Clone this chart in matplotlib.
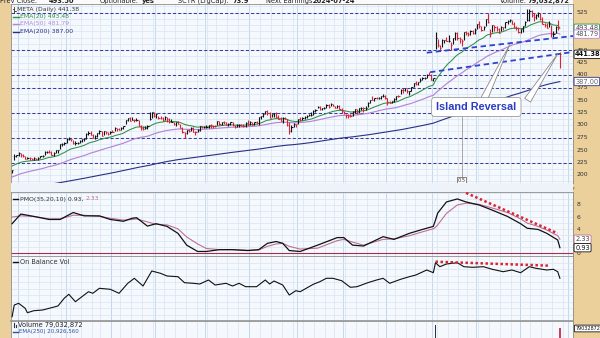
import numpy as np
import pandas as pd
import matplotlib
matplotlib.use('Agg')
import matplotlib.pyplot as plt
from matplotlib.patches import Rectangle
from matplotlib.lines import Line2D
import matplotlib.transforms as mtrans

# ---------------- DATA (META daily, Apr 26 2023 - Apr 25 2024) ----------------
closes = [209.4, 238.56, 240.32,
    243.18, 239.23, 237.03, 232.78, 233.8, 233.27, 231.7, 233.2, 232.6, 233.8, 237.6, 238.2, 246.8, 246.9, 245.6, 240.6, 244.2, 249.2, 249.5, 262.0, 262.5, 264.7,
    272.6, 272.6, 271.4, 263.6, 263.6, 264.6, 268.2, 271.3, 271.8, 281.8, 284.4, 281.0, 274.4, 277.6, 284.3, 288.7, 278.5, 287.2, 285.3, 281.5, 287.0,
    286.0, 294.4, 292.0, 290.5, 294.1, 298.3, 309.3, 313.4, 308.9, 310.6, 309.3, 311.0, 299.0, 294.3, 291.6, 294.5, 298.6, 311.7, 325.5, 318.6,
    322.7, 314.0, 313.5, 310.7, 316.6, 312.6, 305.2, 305.7, 301.6, 306.2, 301.9, 294.3, 285.1, 283.25, 289.9, 287.6, 294.5, 286.7, 285.5, 290.3, 298.0, 295.1, 295.9,
    296.4, 300.2, 299.2, 298.7, 297.9, 307.6, 301.6, 305.7, 305.1, 300.3, 302.6, 305.1, 299.1, 295.7, 299.1, 300.8, 299.0, 297.7, 304.0, 300.2,
    306.8, 300.9, 305.6, 304.8, 315.4, 317.7, 321.8, 327.8, 324.2, 314.7, 321.2, 324.0, 317.0, 312.8, 308.7, 314.0, 312.6, 299.5, 288.4, 296.7, 302.7, 301.3,
    311.9, 310.9, 314.6, 315.8, 318.8, 319.8, 320.6, 328.8, 329.2, 336.3, 332.7, 334.2, 335.0, 340.0, 337.0, 341.5, 338.2, 334.7, 339.0, 332.2, 327.2,
    324.8, 320.0, 318.3, 317.5, 326.6, 332.8, 325.3, 334.2, 334.7, 333.2, 334.9, 344.6, 350.4, 349.3, 354.1, 353.4, 354.8, 357.8, 358.3, 354.0,
    346.3, 344.5, 347.1, 352.0, 358.7, 357.4, 370.5, 369.7, 374.5, 367.5, 368.4, 376.1, 383.5, 381.8, 385.2, 390.7, 393.2, 394.1, 401.0, 400.1, 390.1,
    394.8, 475.0, 459.4, 454.7, 469.6, 470.0, 468.1, 468.9, 460.1, 473.3, 484.0, 473.3, 471.8, 468.0, 486.1, 484.0, 481.7, 487.1, 484.0, 490.1,
    502.3, 498.2, 490.2, 496.1, 512.2, 506.0, 483.6, 499.8, 495.6, 491.8, 484.1, 497.0, 496.2, 505.5, 507.8, 509.6, 503.0, 495.9, 493.9, 485.6,
    491.4, 497.4, 506.7, 510.9, 527.3, 519.3, 516.9, 519.8, 523.2, 511.9, 502.8, 499.8, 494.2, 501.8, 481.1, 481.7, 496.1, 493.5, 441.38]
highs = [210.0, 241.69, 241.0,
    245.7, 243.5, 242.2, 237.8, 235.5, 235.8, 234.8, 236.6, 234.9, 235.4, 238.6, 240.0, 248.3, 247.8, 249.1, 247.9, 245.5, 250.3, 251.0, 263.0, 265.0, 266.0,
    273.3, 275.4, 273.0, 270.8, 267.2, 267.0, 270.6, 272.0, 274.4, 283.4, 287.7, 288.7, 281.8, 280.2, 285.0, 290.0, 289.0, 288.1, 288.6, 286.5, 288.1,
    289.8, 296.7, 293.9, 294.6, 296.0, 298.9, 310.3, 313.9, 316.8, 315.4, 312.6, 314.3, 310.8, 300.0, 298.6, 297.5, 300.3, 326.2, 325.6, 326.2,
    324.0, 318.0, 318.1, 316.7, 317.4, 315.6, 314.1, 312.4, 305.3, 306.4, 307.2, 301.5, 295.6, 285.3, 290.7, 292.6, 295.2, 297.0, 287.1, 292.0, 298.5, 298.7, 298.6,
    299.5, 300.8, 302.5, 300.9, 300.2, 308.5, 307.1, 306.8, 307.7, 305.7, 304.0, 305.5, 306.8, 299.9, 301.5, 301.3, 302.6, 301.2, 305.8, 309.3,
    307.2, 307.0, 306.5, 307.2, 316.3, 318.3, 324.1, 328.0, 330.5, 325.6, 322.4, 325.0, 325.7, 320.2, 315.4, 316.5, 316.9, 311.5, 306.3, 299.3, 304.1, 302.6,
    311.9, 315.1, 315.8, 318.3, 319.8, 322.4, 325.4, 329.1, 332.3, 338.0, 338.9, 334.6, 336.2, 342.9, 341.9, 344.0, 342.5, 338.0, 339.2, 340.3, 333.2,
    329.0, 322.2, 321.5, 321.6, 327.8, 333.0, 332.1, 334.5, 336.9, 337.0, 338.0, 346.4, 350.4, 358.8, 354.8, 356.0, 356.1, 358.5, 361.9, 361.0,
    353.5, 347.9, 348.2, 353.5, 358.9, 360.6, 371.1, 373.6, 375.0, 372.9, 368.4, 376.6, 385.0, 387.8, 385.2, 394.7, 397.0, 396.0, 401.9, 406.4, 401.7,
    395.0, 486.0, 471.9, 459.4, 471.5, 470.5, 476.0, 480.4, 465.8, 473.8, 486.0, 485.1, 475.5, 471.7, 486.9, 488.5, 486.8, 490.0, 489.3, 495.0,
    503.0, 508.4, 497.3, 498.6, 512.8, 523.6, 492.0, 500.0, 500.5, 498.9, 494.5, 498.0, 497.0, 507.0, 509.8, 511.5, 509.6, 507.0, 498.7, 496.5,
    492.0, 499.0, 507.8, 531.5, 532.0, 530.5, 524.4, 522.4, 526.1, 523.9, 516.0, 504.8, 505.0, 507.8, 500.5, 488.8, 498.8, 510.0, 446.4]
lows = [204.5, 229.85, 235.9,
    238.9, 236.6, 236.8, 231.1, 231.3, 230.7, 230.7, 229.8, 230.5, 230.7, 233.9, 236.8, 240.0, 243.5, 244.3, 240.0, 238.0, 243.6, 244.9, 251.8, 258.3, 259.1,
    264.7, 269.2, 268.4, 262.3, 259.9, 262.1, 264.8, 266.5, 268.9, 272.8, 280.6, 280.4, 273.8, 271.6, 277.0, 283.0, 278.1, 279.6, 282.5, 280.0, 282.6,
    285.1, 288.0, 288.6, 289.4, 289.1, 291.4, 302.0, 307.2, 308.4, 309.4, 306.6, 307.1, 297.8, 290.8, 290.2, 291.2, 292.6, 311.0, 314.1, 316.8,
    313.3, 311.1, 311.2, 309.0, 310.2, 306.6, 304.1, 305.1, 300.2, 299.0, 301.4, 294.2, 284.6, 274.4, 281.3, 286.0, 287.4, 286.5, 279.5, 286.4, 288.5, 294.1, 294.9,
    294.0, 293.8, 294.8, 294.7, 295.9, 300.0, 300.9, 300.2, 301.2, 299.6, 298.9, 300.0, 298.8, 295.0, 295.4, 295.7, 297.6, 295.1, 296.8, 299.8,
    299.1, 299.3, 300.6, 301.1, 299.8, 311.3, 316.6, 321.1, 320.9, 313.6, 316.3, 316.5, 315.0, 311.5, 307.2, 305.0, 311.3, 298.2, 282.0, 286.2, 296.7, 295.5,
    301.6, 307.8, 310.5, 312.3, 314.4, 317.6, 318.5, 319.5, 326.3, 333.5, 329.7, 330.2, 331.1, 334.6, 335.0, 338.6, 337.8, 333.1, 333.7, 331.1, 324.6,
    322.3, 313.7, 314.3, 315.6, 318.8, 323.5, 322.6, 324.3, 329.3, 326.7, 330.7, 335.8, 343.2, 349.1, 348.9, 351.4, 351.7, 352.6, 357.0, 351.9,
    340.0, 343.2, 343.5, 346.3, 350.0, 355.4, 361.1, 364.3, 367.6, 363.3, 360.8, 367.4, 376.0, 379.9, 380.2, 386.2, 390.6, 391.3, 393.9, 399.1, 390.0,
    387.2, 453.0, 456.0, 450.0, 457.0, 464.1, 467.6, 466.4, 450.7, 462.9, 470.9, 469.1, 463.9, 458.7, 470.1, 480.5, 478.3, 479.6, 482.2, 481.2,
    491.4, 494.0, 487.5, 489.9, 498.5, 503.9, 476.0, 486.5, 488.3, 488.5, 483.6, 487.5, 489.1, 494.0, 502.1, 505.5, 502.8, 495.0, 490.0, 484.7,
    483.1, 485.8, 497.2, 508.1, 508.5, 516.3, 508.8, 511.6, 516.0, 509.3, 501.4, 496.3, 493.5, 495.6, 476.4, 476.7, 484.3, 490.0, 414.5]

ema20_start, ema50_start, ema200_start = 218.0, 196.0, 171.0

# PMO(35,20,10) at sample days (trading-day index)
pmo_days = [0, 4, 10, 17, 22, 28, 33, 40, 45, 51, 55, 57, 62, 66, 71, 76, 80, 85, 89, 95, 101, 108, 113, 117, 121, 124, 127, 132, 140, 149,
            152, 156, 161, 170, 175, 182, 188, 193, 194, 195, 199, 204, 208, 214, 220, 227, 233, 236, 241, 245, 250, 251]
pmo = [4.9, 6.5, 6.1, 5.6, 5.6, 6.75, 6.2, 6.2, 5.6, 5.3, 5.8, 5.9, 4.5, 4.9, 4.45, 3.3, 1.35, 0.3, 0.3, 0.6, 0.6, 0.45, 0.6, 1.65, 1.95, 1.65,
       0.45, 0.3, 1.35, 2.6, 2.6, 1.35, 1.2, 2.75, 2.3, 3.3, 3.95, 4.45, 5.5, 6.65, 8.5, 9.0, 8.5, 8.0, 7.15, 6.1, 4.9, 4.15, 3.95, 3.3, 2.2, 0.93]
pmo_signal = [6.0, 6.2, 6.1, 5.7, 5.7, 6.3, 6.3, 6.1, 5.8, 5.5, 5.6, 5.7, 5.2, 4.8, 4.7, 4.05, 2.7, 1.55, 0.8, 0.6, 0.6, 0.5, 0.55, 1.15, 1.55,
              1.65, 1.15, 0.7, 0.85, 2.1, 2.3, 1.85, 1.35, 2.3, 2.4, 2.9, 3.55, 4.05, 4.3, 4.7, 6.6, 8.0, 8.3, 8.1, 7.5, 6.75, 5.7, 5.0, 4.45,
              3.85, 2.9, 2.33]

# On Balance Volume (relative units)
obv_days = [0, 1, 3, 6, 7, 10, 14, 17, 21, 24, 26, 29, 35, 37, 40, 45, 49, 53, 56, 60, 64, 68, 71, 76, 79, 83, 86, 90, 93, 98, 101,
            104, 107, 112, 116, 118, 120, 124, 127, 130, 132, 138, 141, 144, 147, 151, 155, 158, 163, 167, 170, 173, 178, 182, 185, 190,
            193, 194, 196, 199, 204, 207, 211, 216, 220, 225, 229, 233, 237, 240, 245, 248, 250, 251]
obv = [3.3, 15.0, 16.7, 11.7, 7.3, 9.3, 10, 11.7, 14, 22, 25.7, 18.3, 28.3, 26.7, 31.7, 30.7, 26.7, 36.7, 41.7, 34, 49, 46.7, 44, 43.3,
       37.3, 36.7, 36, 40, 35, 36.7, 34, 36.7, 33.3, 33.3, 40, 36, 39, 35, 25, 29.3, 28.3, 35.7, 38.3, 41.7, 41.7, 39.3, 32.7, 33.3, 37.3,
       40, 41.7, 36.7, 40.7, 43.3, 45, 50, 47.3, 57.3, 53.3, 56, 57.3, 53.3, 52.7, 53.3, 50.7, 48.3, 50, 47.3, 53.3, 51.7, 50, 50.7, 48.3, 41.7]

# Volume (millions) visible above the cropped bottom edge
vol_days = [194, 251]
volumes = [85.4, 79.03]

h_levels = [525, 450, 400, 375, 325, 275, 225]
price_ticks = [525, 450, 425, 400, 375, 350, 325, 300, 275, 250, 225, 200]
pmo_ticks = [8, 6, 4, 0]
trend_upper = ([190, 257], [444.6, 478.0])
trend_lower = ([191.5, 257], [405.6, 446.0])
pmo_trend = ([208, 250], [10.0, 3.3])
obv_trend = ([194, 246.5], [58.3, 54.3])

# ---------------- helpers ----------------
W, H = 600, 338
def fx(x): return x / W
def fy(y): return 1 - y / H

TAN = '#ecd09c'
BG = '#f5f9fd'
GRID = '#d6e4f2'
GRID_M = '#bfd3ea'
GREEN = '#2f8f46'
PURPLE = '#b586d8'
NAVY = '#2a2f86'
RED = '#dc2430'
PINK = '#c07095'
FS = 4.4

holidays = pd.to_datetime(['2023-05-29', '2023-06-19', '2023-07-04', '2023-09-04', '2023-11-23',
                           '2023-12-25', '2024-01-01', '2024-01-15', '2024-02-19', '2024-03-29'])
cal = pd.bdate_range('2023-04-26', '2024-05-10')
cal = cal[~cal.isin(holidays)]
n = len(closes)
idx = np.arange(n)
XMAX = 257.0
month_pos = [i for i in range(1, len(cal)) if cal[i].month != cal[i - 1].month and i <= XMAX]
week_pos = [i for i in range(1, len(cal)) if cal[i].weekday() < cal[i - 1].weekday() and i <= XMAX]

def ema(vals, seed, span):
    a = 2.0 / (span + 1)
    out = [seed]
    for v in vals[1:]:
        out.append(out[-1] + a * (v - out[-1]))
    return np.array(out)

c = np.array(closes)
ema20 = ema(c, ema20_start, 20)
ema50 = ema(c, ema50_start, 50)
ema200 = ema(c, ema200_start, 200)
cols = [('#111111' if (i == 0 or c[i] >= c[i - 1]) else RED) for i in range(n)]

plt.rcParams['font.family'] = ['DejaVu Sans']
fig = plt.figure(figsize=(6, 3.38), dpi=100)
fig.patch.set_facecolor(TAN)
fig.patches.append(Rectangle((fx(10), fy(4)), fx(573) - fx(10), 4 / H, transform=fig.transFigure,
                             facecolor='#fafafa', edgecolor='none', zorder=0))
fig.patches.append(Rectangle((fx(11), fy(192)), fx(573) - fx(11), 9 / H, transform=fig.transFigure,
                             facecolor='#eef3f9', edgecolor='none', zorder=0))

def make_ax(ytop, ybot):
    ax = fig.add_axes([fx(11), fy(ybot), fx(573) - fx(11), (ybot - ytop) / H])
    ax.set_facecolor(BG)
    ax.set_xlim(-0.5, XMAX)
    ax.set_xticks([]); ax.set_yticks([])
    for s in ax.spines.values():
        s.set_color('#8c8c8c'); s.set_linewidth(0.6)
    for p in week_pos:
        ax.axvline(p - 0.5, color=GRID, lw=0.5, zorder=0)
    for p in month_pos:
        ax.axvline(p - 0.5, color=GRID_M, lw=0.6, zorder=0)
    return ax

# ---------------- price panel ----------------
ax = make_ax(4, 183)
ax.set_ylim(184, 542)
for v in np.arange(187.5, 542, 12.5):
    ax.axhline(v, color=GRID, lw=0.5, zorder=0)
for lv in h_levels:
    ax.axhline(lv, color='#383c9c', lw=0.75, ls=(0, (3, 2)), zorder=1)
ax.plot(idx, ema200, color=NAVY, lw=0.8, zorder=2)
ax.plot(idx, ema50, color=PURPLE, lw=0.85, zorder=2)
ax.plot(idx, ema20, color=GREEN, lw=0.75, zorder=2)
ax.vlines(idx, lows, highs, colors=cols, lw=0.8, zorder=3)
ax.hlines(closes, idx, idx + 0.55, colors=cols, lw=0.8, zorder=3)
ax.plot(*trend_upper, color='#2e44d0', lw=1.3, ls=(0, (3, 2)), zorder=4)
ax.plot(*trend_lower, color='#2e44d0', lw=1.3, ls=(0, (3, 2)), zorder=4)

# dividend marker
ax.plot([206, 206], [189, 345], color='#9a9a9a', lw=0.6, zorder=4)
ax.text(206, 189.5, '0.5', fontsize=3.6, ha='center', va='center', color='#333', zorder=6, clip_on=False,
        bbox=dict(boxstyle='square,pad=0.15', fc='white', ec='#555', lw=0.5))

# Island reversal annotation
wedge = dict(arrowstyle='wedge,tail_width=0.5,shrink_factor=0.5', fc='white', ec='#8a8a8a', lw=0.6)
ax.annotate('', xy=(228.6, 466), xytext=(215.5, 345), arrowprops=wedge, zorder=7)
ax.annotate('', xy=(250.6, 446), xytext=(235.5, 345), arrowprops=wedge, zorder=7)
ax.text(212.7, 336, 'Island Reversal', ha='center', va='center', fontsize=7.8, fontweight='bold',
        family='Liberation Sans', color='#2b3cc4', zorder=9,
        bbox=dict(boxstyle='round,pad=0.42,rounding_size=0.3', fc='white', ec='#9a9a9a', lw=0.6))

ty = ax.get_yaxis_transform()
for t in price_ticks:
    ax.text(1.007, t, str(t), transform=ty, fontsize=FS, va='center', ha='left', color='#333', clip_on=False)
def vbox(a, v, txt, ec, tc, bold=False, fs=FS + 0.4):
    a.text(1.004, v, txt, transform=a.get_yaxis_transform(), fontsize=fs, va='center', ha='left', color=tc,
           fontweight='bold' if bold else 'normal', clip_on=False, zorder=10,
           bbox=dict(boxstyle='round,pad=0.18', fc='white', ec=ec, lw=0.6))
vbox(ax, 493.48, '493.48', GREEN, '#444')
vbox(ax, 481.79, '481.79', PURPLE, '#555')
vbox(ax, 441.38, '441.38', '#111', '#111', bold=True)
vbox(ax, 387.00, '387.00', NAVY, '#666')

# legend (top-left)
fig.add_artist(Line2D([fx(14), fx(14)], [fy(7), fy(13)], color='#333', lw=0.6))
fig.add_artist(Line2D([fx(12.5), fx(14)], [fy(9), fy(9)], color='#333', lw=0.6))
fig.add_artist(Line2D([fx(14), fx(15.5)], [fy(11), fy(11)], color='#333', lw=0.6))
fig.text(fx(17), fy(10), 'META (Daily) 441.38', fontsize=FS, va='center', color='#333')
for yy, col, lab in [(16.5, GREEN, 'EMA(20) 493.48'), (24, PURPLE, 'EMA(50) 481.79'), (31.5, NAVY, 'EMA(200) 387.00')]:
    fig.add_artist(Line2D([fx(13), fx(19)], [fy(yy), fy(yy)], color=col, lw=1.0))
    fig.text(fx(20), fy(yy), lab, fontsize=FS, va='center', color=col)

# header (cropped at top, as in the source image)
hdr = [(0, 'Prev Close:', False), (49, '493.50', True), (100, 'Optionable:', False), (142, 'yes', True),
       (178, 'SCTR (LrgCap):', False), (233, '73.9', True), (266, 'Next Earnings:', False), (313, '2024-07-24', True),
       (500, 'Volume:', False), (528, '79,032,872', True)]
for x0, s, b in hdr:
    fig.text(fx(x0), fy(2.8), s, fontsize=4.8, va='baseline', ha='left', color='#222',
             fontweight='bold' if b else 'normal')

# month labels
bt = mtrans.blended_transform_factory(ax.transData, fig.transFigure)
for p in month_pos:
    d = cal[p]
    lab = str(d.year) if d.month == 1 else d.strftime('%b')
    ax.text(p, fy(188.5), lab, transform=bt, fontsize=FS, ha='center', va='center', color='#333',
            fontweight='bold' if d.month == 1 else 'normal', clip_on=False)

# ---------------- PMO panel ----------------
ax2 = make_ax(192, 256)
ax2.set_ylim(-0.45, 10.15)
for v in np.arange(1, 10.5, 1):
    ax2.axhline(v, color=GRID, lw=0.5, zorder=0)
ax2.axhline(0, color='#a3304e', lw=0.8, zorder=1)
ax2.plot(pmo_days, pmo_signal, color=PINK, lw=0.8, zorder=2)
ax2.plot(pmo_days, pmo, color='#111', lw=0.9, zorder=3)
ax2.plot(*pmo_trend, color=RED, lw=1.8, ls=(0, (1, 1)), zorder=4)
for t in pmo_ticks:
    ax2.text(1.007, t, str(t), transform=ax2.get_yaxis_transform(), fontsize=FS, va='center', ha='left',
             color='#333', clip_on=False)
vbox(ax2, 2.33, '2.33', PINK, '#444')
vbox(ax2, 0.93, '0.93', '#111', '#111')
fig.add_artist(Line2D([fx(13), fx(18)], [fy(199), fy(199)], color='#111', lw=1.0))
t1 = fig.text(fx(20), fy(199), 'PMO(35,20,10) 0.93, ', fontsize=FS, va='center', color='#333')
fig.canvas.draw()
bb = t1.get_window_extent()
fig.text(bb.x1 / fig.bbox.width, fy(199), '2.33', fontsize=FS, va='center', color=PINK)

# ---------------- OBV panel ----------------
ax3 = make_ax(256, 321)
ax3.set_ylim(-1, 64)
for v in np.arange(5.5, 64, 6.5):
    ax3.axhline(v, color=GRID, lw=0.5, zorder=0)
ax3.plot(obv_days, obv, color='#111', lw=0.8, zorder=3)
ax3.plot(*obv_trend, color=RED, lw=1.8, ls=(0, (1, 1)), zorder=4)
ax3.spines['bottom'].set_color('#9a9a9a'); ax3.spines['bottom'].set_linewidth(1.3)
fig.add_artist(Line2D([fx(13), fx(18)], [fy(262), fy(262)], color='#111', lw=1.0))
fig.text(fx(20), fy(262), 'On Balance Vol', fontsize=FS + 0.3, va='center', color='#333')

# ---------------- Volume panel (cropped) ----------------
ax4 = make_ax(321, 378)
ax4.set_ylim(0, 91)
ax4.bar(vol_days, volumes, width=0.9, color=['#333333', '#c9405e'], zorder=3)
fig.add_artist(Line2D([fx(14), fx(14)], [fy(323), fy(327)], color='#333', lw=0.8))
fig.add_artist(Line2D([fx(15.5), fx(15.5)], [fy(324.5), fy(327)], color='#333', lw=0.8))
fig.text(fx(18), fy(325), 'Volume 79,032,872', fontsize=FS + 0.4, va='center', color='#222')
fig.add_artist(Line2D([fx(13), fx(18)], [fy(332), fy(332)], color='#3050a0', lw=1.0))
fig.text(fx(19), fy(332), 'EMA(250) 20,926,560', fontsize=FS - 0.4, va='center', color='#3050a0')
vbox(ax4, 79.03, '79032872', '#111', '#111', fs=3.5)

fig.savefig('out.png', dpi=100, facecolor=fig.get_facecolor())
